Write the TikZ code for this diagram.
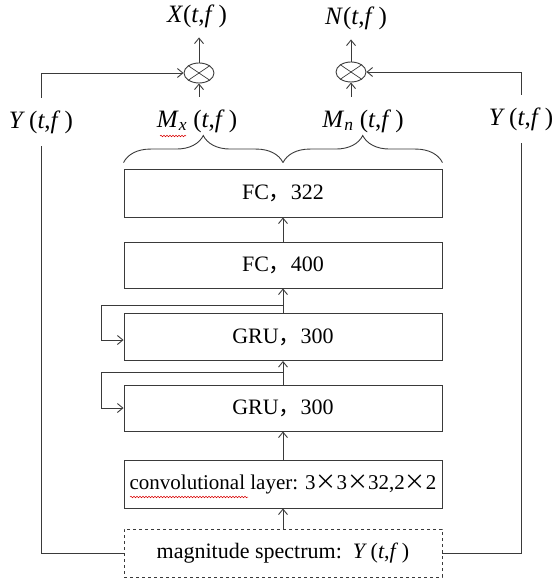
\documentclass[tikz,border=0pt]{standalone}
\usepackage{fontspec}
\setmainfont{Liberation Serif}
\newfontfamily\cjk{Noto Sans CJK SC}
\usetikzlibrary{arrows.meta,shapes.geometric,decorations.pathreplacing,decorations.pathmorphing,calc}
\definecolor{ln}{HTML}{3A3A3A}
\begin{document}
\begin{tikzpicture}[x=1pt,y=-1pt,
  line width=0.9pt,
  every node/.style={font=\fontsize{22}{25}\selectfont, text=black},
  blk/.style={draw=ln, minimum width=318pt, minimum height=47pt, inner sep=0pt},
  arr/.style={draw=ln, -{Straight Barb[length=5.5pt,width=9pt]}},
  ln/.style={draw=ln},
  lab/.style={inner sep=0pt, minimum height=48pt, font=\fontsize{25}{28}\selectfont},
  toplab/.style={inner sep=0pt, minimum height=42pt, font=\fontsize{25}{28}\selectfont},
  mul/.style={draw=ln, ellipse, minimum width=30pt, minimum height=20pt, inner sep=0pt},
  brc/.style={draw=ln, decorate, decoration={brace, amplitude=27pt}},
  spell/.style={draw=red!85!black, line width=0.5pt, decorate, decoration={snake, amplitude=0.8pt, segment length=3pt}}
]
\useasboundingbox (0,0) rectangle (553,580);

% blocks
\node[blk, minimum height=48pt] (fc1) at (283,193) {FC{\cjk ，}322};
\node[blk, minimum height=46pt] (fc2) at (283,265) {FC{\cjk ，}400};
\node[blk] (gru1) at (283,337) {GRU{\cjk ，}300};
\node[blk, minimum height=46pt] (gru2) at (283,408) {GRU{\cjk ，}300};
\node[blk, minimum height=48pt, font=\fontsize{21}{24}\selectfont] (conv) at (283,484) {convolutional layer: 3{\cjk ×}3{\cjk ×}32,2{\cjk ×}2};
\node[blk, dashed, minimum height=48pt] (mag) at (283,553) {magnitude spectrum:\ \ \textit{Y}\,(\textit{t},\textit{f}\,)};

% vertical arrows
\draw[arr] (mag.north) -- (conv.south);
\draw[arr] (conv.north) -- (gru2.south);
\draw[arr] (gru2.north) -- (gru1.south);
\draw[arr] (gru1.north) -- (fc2.south);
\draw[arr] (fc2.north) -- (fc1.south);

% recurrent loops
\coordinate (f1) at ($(gru1.north)+(0,-8)$);
\coordinate (f2) at ($(gru2.north)+(0,-12)$);
\draw[arr] (f1) -| ($(gru1.west)+(-22,3)$) -- ($(gru1.west)+(0,3)$);
\draw[arr] (f2) -| ($(gru2.west)+(-22,0)$) -- (gru2.west);

% multipliers
\node[mul] (cx) at (199,73) {};
\node[mul] (cn) at (351,72) {};
\draw[ln, line width=0.7pt] (cx.north west) -- (cx.south east) (cx.north east) -- (cx.south west);
\draw[ln, line width=0.7pt] (cn.north west) -- (cn.south east) (cn.north east) -- (cn.south west);

% labels
\node[toplab] (xo) at (197,16) {\textit{X}(\textit{t},\textit{f}\,)};
\node[toplab] (no) at (356,18) {\textit{N}(\textit{t},\textit{f}\,)};
\node[lab] (mx) at (197,121) {\textit{M}\textsubscript{\textit{x}}\ (\textit{t},\textit{f}\,)};
\node[lab] (mn) at (363,121) {\textit{M}\textsubscript{\textit{n}}\ (\textit{t},\textit{f}\,)};
\node[lab] (yl) at (41,122) {\textit{Y}\,(\textit{t},\textit{f}\,)};
\node[lab] (yr) at (521,119) {\textit{Y}\,(\textit{t},\textit{f}\,)};

\draw[arr] (cx.north) -- (cx.north |- xo.south);
\draw[arr] (cn.north) -- (cn.north |- no.south);
\draw[arr] (cx.south |- mx.north) -- (cx.south);
\draw[arr] (cn.south |- mn.north) -- (cn.south);

% Y feeds
\draw[ln] (mag.west) -| (yl.south);
\draw[arr] (yl.north) |- (cx.west);
\draw[ln] (mag.east) -| (yr.south);
\draw[arr] (yr.north) |- (cn.east);

% braces
\draw[brc] ($(fc1.north west)+(0,-6)$) -- ($(fc1.north)+(0,-6)$);
\draw[brc] ($(fc1.north)+(0,-6)$) -- ($(fc1.north east)+(0,-6)$);

% spell-check underlines
\draw[spell] (160,136) -- (186,136);
\draw[spell] (130,497) -- (248,497);
\end{tikzpicture}
\end{document}
